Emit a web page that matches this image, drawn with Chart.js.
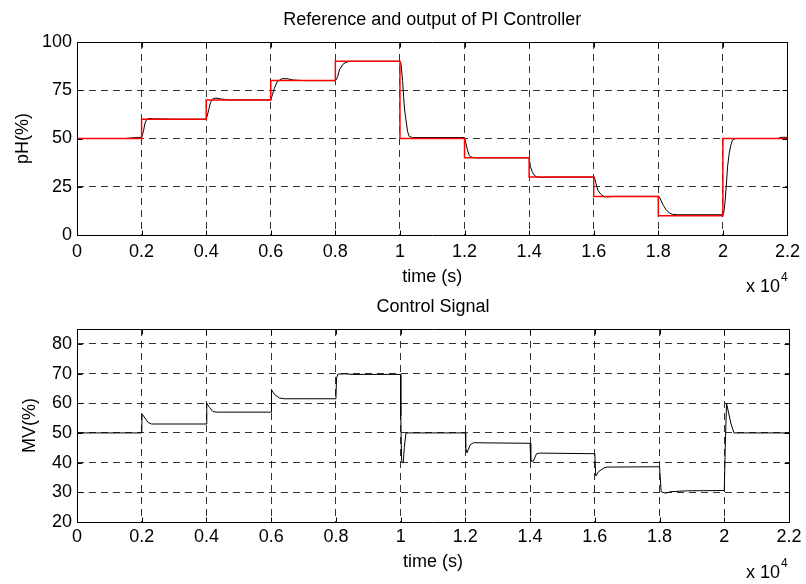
<!DOCTYPE html>
<html><head><meta charset="utf-8">
<script src="https://cdn.jsdelivr.net/npm/chart.js@4.4.0/dist/chart.umd.min.js"></script>
<style>
html,body{margin:0;padding:0;background:#fff;}
#wrap{position:relative;width:806px;height:584px;overflow:hidden;}
canvas{position:absolute;left:0;}
</style>
</head><body>
<div id="wrap">
<canvas id="c1" width="806" height="292" style="top:0px"></canvas>
<canvas id="c2" width="806" height="292" style="top:292px"></canvas>
</div>
<script>
// ---- data ----
const refTime  = [0, 2000, 4000, 6000, 8000, 10000, 12000, 14000, 16000, 18000, 20000, 22000];
const refValue = [50, 60, 70, 80, 90, 50, 40, 30, 20, 10, 50, 50];

const pHTime  = [0,1500,1700,1900,2000,2020,2060,2100,2150,2200,2400,3000,4000,4030,4080,4130,4200,4300,4450,4700,
  6000,6050,6110,6200,6350,6500,6700,7000,8000,8020,8070,8125,8230,8330,8480,10000,10030,10082,10113,10144,10185,10237,10289,10392,
  12000,12040,12092,12144,12195,12300,14000,14040,14090,14150,14220,14350,14600,16000,16020,16072,16124,16227,16330,16485,16600,
  18000,18030,18082,18154,18237,18340,18443,18600,20000,20020,20062,20103,20144,20196,20247,20299,20402,21700,21800,22000];
const pHValue = [50,50,50.3,50.6,50.5,51.5,54,57.5,59.8,60.3,60.2,60,60,61.5,65,68.5,70.5,71,70.5,70,
  70,72.6,76,79.5,81,81,80.3,80,80,80.3,82,85.5,88.4,89.5,90,90,89,80,71.7,64.8,59.7,53.6,51,50.5,
  50.5,47.6,44,41.2,40.5,40,40,35.5,33,31.2,30.2,29.8,30,30,30,26.7,23.3,21,19.8,19.8,20,
  20,19.8,18,15.4,13.2,11.4,10.7,10.5,10.5,10.8,16.4,25,35.4,42.4,46.7,49.3,50,50,50.6,50.6];

const mvTime  = [0,2000,2010,2100,2200,2300,4000,4010,4100,4200,4300,6000,6010,6100,6250,6400,8000,8020,8060,8300,8500,
  10000,10005,10030,10080,10113,10165,12000,12010,12050,12150,12250,14000,14020,14100,14200,14300,
  16000,16030,16120,16280,16380,18000,18050,18180,18340,18860,20000,20030,20070,20140,20210,20300,22000];
const mvValue = [50,50,56.4,55,53.5,53,53,60,58.5,57.2,57,57,64.5,63,61.8,61.5,61.5,68.5,69.8,69.9,69.7,
  69.7,55.8,40.5,40,45,50,50,45,43.3,46,46.7,46.5,40.5,40.5,43,43.2,
  43,35.5,37,38.2,38.5,38.6,30.2,29.7,30.2,30.5,30.6,45,60,56.4,53,50,50];

const xTicksMax = 22000, xStep = 2000, xScaleExp = 4;
const topTitle = 'Reference and output of PI Controller';
const bottomTitle = 'Control Signal';
const xLabel = 'time (s)';

// ---- helpers ----
const FONT = "'Liberation Sans', Arial, Helvetica, sans-serif";
const FS = 18;
const pts = (t, v) => t.map((x, i) => ({x, y: v[i]}));

const boxPlugin = {
  id: 'matlabBox',
  afterDraw(chart, args, opts) {
    const {ctx, chartArea: a, scales: {x, y}} = chart;
    ctx.save();
    ctx.setLineDash([]);
    ctx.strokeStyle = '#000';
    ctx.lineWidth = 1;
    const l = Math.round(a.left) + 0.5, r = Math.round(a.right) + 0.5;
    const t = Math.round(a.top) + 0.5, b = Math.round(a.bottom) + 0.5;
    ctx.beginPath();
    ctx.rect(l, t, r - l, b - t);
    const L = 5;
    x.ticks.forEach(tk => {
      const px = Math.round(x.getPixelForValue(tk.value)) + 0.5;
      ctx.moveTo(px, t); ctx.lineTo(px, t + L);
      ctx.moveTo(px, b); ctx.lineTo(px, b - L);
    });
    y.ticks.forEach(tk => {
      const py = Math.round(y.getPixelForValue(tk.value)) + 0.5;
      ctx.moveTo(l, py); ctx.lineTo(l + L, py);
      ctx.moveTo(r, py); ctx.lineTo(r - L, py);
    });
    ctx.stroke();
    ctx.fillStyle = '#000';
    // axes title, centred over the plot box
    ctx.textBaseline = 'middle';
    ctx.textAlign = 'center';
    ctx.font = FS + 'px ' + FONT;
    ctx.fillText(opts.title, (a.left + a.right) / 2, a.top - 22);
    // exponent label "x 10^4"
    ctx.textAlign = 'right';
    ctx.fillText('x 10', opts.expX, opts.expY);
    ctx.textAlign = 'left';
    ctx.font = '12px ' + FONT;
    ctx.fillText(String(xScaleExp), opts.expX + 1, opts.expY - 9);
    ctx.restore();
  }
};

function makeChart(id, cfg) {
  return new Chart(document.getElementById(id), {
    type: 'line',
    data: {datasets: cfg.datasets},
    options: {
      responsive: false,
      animation: false,
      layout: {padding: {left: 0, right: 806 - 789, top: cfg.padTop, bottom: 0}},
      elements: {point: {radius: 0}, line: {tension: 0}},
      plugins: {
        legend: {display: false},
        tooltip: {enabled: false},
        title: {display: false},
        matlabBox: {expX: 780, expY: cfg.expY, title: cfg.title}
      },
      scales: {
        x: {
          type: 'linear', min: 0, max: xTicksMax,
          afterFit: s => { s.height = cfg.xHeight; },
          ticks: {stepSize: xStep, color: '#000', padding: cfg.xTickPad, maxRotation: 0, autoSkip: false,
            font: {family: FONT, size: FS, lineHeight: 1.2},
            callback: v => String(+(v / Math.pow(10, xScaleExp)).toFixed(2))},
          grid: {color: 'rgba(0,0,0,0.8)', lineWidth: 1, drawTicks: false},
          border: {display: false, dash: [7, 5]},
          title: {display: true, text: xLabel, color: '#000',
            font: {family: FONT, size: FS, lineHeight: 1.2}, padding: {top: 0, bottom: cfg.xTitlePad}}
        },
        y: {
          type: 'linear', min: cfg.yMin, max: cfg.yMax,
          afterFit: s => { s.width = 77; },
          ticks: {stepSize: cfg.yStep, includeBounds: false, color: '#000', padding: 5,
            font: {family: FONT, size: FS, lineHeight: 1.2}},
          grid: {color: 'rgba(0,0,0,0.8)', lineWidth: 1, drawTicks: false},
          border: {display: false, dash: [7, 5]},
          title: {display: true, text: cfg.yLabel, color: '#000',
            font: {family: FONT, size: FS, lineHeight: 1.2}, padding: {top: cfg.yTitlePad, bottom: 0}}
        }
      }
    },
    plugins: [boxPlugin]
  });
}

makeChart('c1', {
  title: topTitle, yLabel: 'pH(%)', yMin: 0, yMax: 100, yStep: 25,
  padTop: 42, xHeight: 57, xTickPad: 6, xTitlePad: 4, yTitlePad: 12, expY: 287,
  datasets: [
    {data: pts(refTime, refValue), borderColor: '#ff0000', borderWidth: 1.5, stepped: true},
    {data: pts(pHTime, pHValue), borderColor: '#000000', borderWidth: 1}
  ]
});

makeChart('c2', {
  title: bottomTitle, yLabel: 'MV(%)', yMin: 20, yMax: 85, yStep: 10,
  padTop: 37, xHeight: 62, xTickPad: 4, xTitlePad: 11, yTitlePad: 19, expY: 281,
  datasets: [
    {data: pts(mvTime, mvValue), borderColor: '#000000', borderWidth: 1}
  ]
});
</script>
</body></html>
